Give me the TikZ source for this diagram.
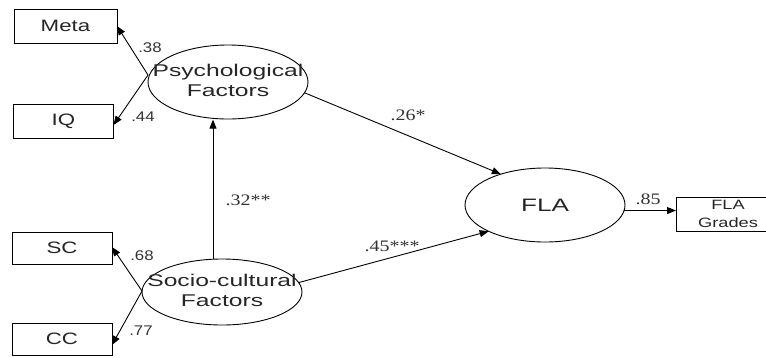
\documentclass[tikz,border=0pt]{standalone}
\usepackage{fontspec}
\usetikzlibrary{arrows.meta,shapes.geometric}
\newfontfamily\boxfont[FakeStretch=1.35]{Liberation Sans}
\newfontfamily\ellfont[FakeStretch=1.45]{Liberation Sans}
\newfontfamily\labsans[FakeStretch=1.2]{Liberation Sans}
\newfontfamily\labserif[FakeStretch=1.25]{Liberation Serif}
\newcommand\twolines[2]{\makebox[0pt]{\begin{tabular}{@{}c@{}}#1\\#2\end{tabular}}}
\begin{document}
\begin{tikzpicture}[x=1pt,y=-1pt,
  every node/.style={inner sep=0pt, outer sep=0pt},
  obs/.style={draw, line width=0.9pt, rectangle, minimum width=102pt, minimum height=34pt, font=\boxfont\fontsize{16.5}{19}\selectfont, text=black!85},
  lat/.style={draw, line width=0.9pt, ellipse, minimum width=160pt, minimum height=74pt, font=\ellfont\fontsize{17}{20}\selectfont, text=black!85},
  arr/.style={line width=0.9pt, -{Triangle[length=9pt,width=7pt]}},
  lsans/.style={font=\labsans\fontsize{14}{16}\selectfont, text=black!80},
  lserif/.style={font=\labserif\fontsize{16}{18}\selectfont, text=black!80}]
\useasboundingbox (0,0) rectangle (766,357);
\fill[white] (0,0) rectangle (766,357);
\begin{scope}
\clip (0,0) rectangle (766,357);
% observed boxes
\node[obs, minimum width=103pt] (meta) at (65.5,26) {Meta};
\node[obs, minimum width=100pt] (iq) at (63.5,121) {IQ};
\node[obs, minimum width=100pt, minimum height=32pt] (sc) at (62,248) {SC};
\node[obs, minimum width=100pt, minimum height=32pt] (cc) at (62,339) {CC};
\node[obs, minimum width=104pt, align=center, font=\boxfont\fontsize{13.5}{18}\selectfont] (grades) at (728,214) {FLA\\Grades};
% latent ellipses
\node[lat] (psych) at (228,82) {\twolines{Psychological}{Factors}};
\node[lat, minimum height=66pt] (socio) at (222,292) {\twolines{Socio-cultural}{Factors}};
\node[lat, font=\ellfont\fontsize{18}{20}\selectfont] (fla) at (545,205) {FLA};
% hubs
\coordinate (ph) at (148,75);
\coordinate (sh) at (142,291);
% loadings
\draw[arr] (ph) -- (meta.east);
\draw[arr] (ph) -- ([yshift=-4pt]iq.east);
\draw[arr] (sh) -- ([yshift=1pt]sc.east);
\draw[arr] (sh) -- ([yshift=-6pt]cc.east);
% structural paths
\draw[arr] ([xshift=-9pt]socio.north) -- ([xshift=-15pt,yshift=-0.6pt]psych.south);
\draw[arr] (psych.-8) -- (fla.145);
\draw[arr] (socio.7) -- (fla.205);
\draw[arr] (fla.-4) -- (fla.-4 -| grades.west);
\end{scope}
% labels
\node[lsans] (l38) at (150,48) {.38};
\node[lsans] (l44) at (143,117) {.44};
\node[lsans] (l68) at (142,256) {.68};
\node[lsans] (l77) at (141,331) {.77};
\node[lserif] (l32) at (248,200) {.32**};
\node[lserif] (l26) at (408,115) {.26*};
\node[lserif] (l45) at (392,246) {.45***};
\node[lserif] (l85) at (648,199) {.85};
\end{tikzpicture}
\end{document}
